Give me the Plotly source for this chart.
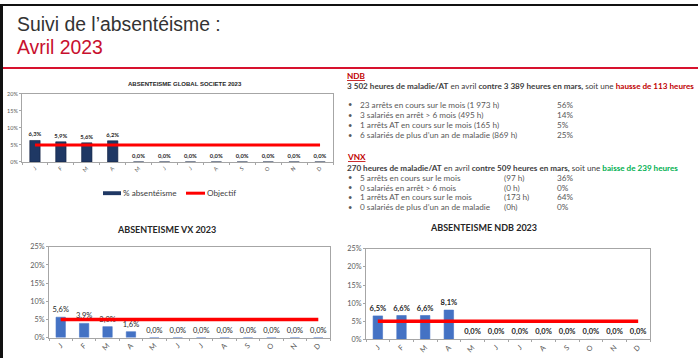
import plotly.graph_objects as go

# ---------------- data ----------------
MONTH_KEYS = ["Jan", "Fev", "Mar", "Avr", "Mai", "Juin", "Juil", "Aou", "Sep", "Oct", "Nov", "Dec"]
MONTH_LABELS = ["J", "F", "M", "A", "M", "J", "J", "A", "S", "O", "N", "D"]

GLOBAL_2023 = [6.3, 5.9, 5.6, 6.2, 0, 0, 0, 0, 0, 0, 0, 0]
VX_2023 = [5.6, 3.9, 3.0, 1.6, 0, 0, 0, 0, 0, 0, 0, 0]
NDB_2023 = [6.5, 6.6, 6.6, 8.1, 0, 0, 0, 0, 0, 0, 0, 0]
OBJECTIF = [5, 5, 5, 5, 5, 5, 5, 5, 5, 5, 5, 5]

Y_TICKS_GLOBAL = [0, 5, 10, 15, 20]
Y_TICKS_SITE = [0, 5, 10, 15, 20, 25]

# ---------------- layout helpers ----------------
W, H = 698, 363


def px(x):
    return x / W


def py(y):
    return 1 - y / H


def fmt(v):
    return f"{v:.1f}%".replace(".", ",")


NAVY = "#1F3864"
BLUE = "#4472C4"
RED = "#FF0000"
DARKRED = "#C00000"
GRID = "#A6A6A6"
TXT = "#404040"
FONT = "Lato"

fig = go.Figure()

charts = [
    dict(data=GLOBAL_2023, color=NAVY, line="#10203f", ax="", xr=(22, 333), yr=(162, 92), ymax=20,
         ticks=Y_TICKS_GLOBAL, tfs=5.5, lfs=5.8, bold=True, lw=3, tl=2),
    dict(data=VX_2023, color=BLUE, line=BLUE, ax="2", xr=(49, 330), yr=(342, 249), ymax=25,
         ticks=Y_TICKS_SITE, tfs=7.3, lfs=7.5, bold=False, lw=3.5, tl=2),
    dict(data=NDB_2023, color=BLUE, line=BLUE, ax="3", xr=(366, 650), yr=(344, 251), ymax=25,
         ticks=Y_TICKS_SITE, tfs=7.3, lfs=7.5, bold=True, lw=3.5, tl=2),
]

for c in charts:
    xa = "x" + c["ax"]
    ya = "y" + c["ax"]
    labels = [fmt(v) for v in c["data"]]
    if c["bold"]:
        labels = [f"<b>{t}</b>" for t in labels]
    fig.add_trace(go.Bar(
        x=MONTH_KEYS, y=c["data"], xaxis=xa, yaxis=ya,
        marker=dict(color=c["color"], line=dict(color=c["line"], width=0.6)),
        text=labels, textposition="outside", constraintext="none", cliponaxis=False,
        textfont=dict(size=c["lfs"], color="#262626", family=FONT),
        width=0.4, name="% absentéisme", hoverinfo="skip",
    ))
    fig.add_trace(go.Scatter(
        x=MONTH_KEYS, y=OBJECTIF, xaxis=xa, yaxis=ya, mode="lines",
        line=dict(color=RED, width=c["lw"]), name="Objectif", hoverinfo="skip",
    ))
    axis_common = dict(showline=True, linecolor=GRID, linewidth=1, mirror=True,
                       ticks="outside", tickcolor=GRID, ticklen=c["tl"], showgrid=False,
                       zeroline=False)
    fig.update_layout(**{
        ("xaxis" + c["ax"]): dict(
            domain=[px(c["xr"][0]), px(c["xr"][1])], anchor=ya,
            type="category", categoryorder="array", categoryarray=MONTH_KEYS,
            tickmode="array", tickvals=MONTH_KEYS, ticktext=MONTH_LABELS,
            tickangle=-45, tickson="boundaries",
            tickfont=dict(size=c["tfs"], color="#595959", family=FONT),
            range=[-0.5, 11.5], **axis_common),
        ("yaxis" + c["ax"]): dict(
            domain=[py(c["yr"][0]), py(c["yr"][1])], anchor=xa,
            range=[0, c["ymax"]], tickmode="array", tickvals=c["ticks"],
            ticktext=[f"{t}%" for t in c["ticks"]],
            tickfont=dict(size=c["tfs"], color="#595959", family=FONT),
            **axis_common),
    })

ann = []


def add_text(x, y, text, size=8.2, color=TXT, family=FONT, anchor="left"):
    ann.append(dict(x=px(x), y=py(y), xref="paper", yref="paper", text=text, showarrow=False,
                    xanchor=anchor, yanchor="middle", font=dict(size=size, color=color, family=family)))


# Slide title
add_text(15, 21, "Suivi de l’absentéisme :", size=19.4, color="#333333", family="Liberation Sans")
add_text(15, 44, "Avril 2023", size=19.4, color="#C8102E", family="Liberation Sans")

# chart titles
add_text(185, 82, "<b>ABSENTEISME GLOBAL SOCIETE 2023</b>", size=6.0, color="#262626", family="Liberation Sans", anchor="center")
add_text(166, 231, "<b>ABSENTEISME VX 2023</b>", size=9.0, color="#262626", family=FONT, anchor="center")
add_text(484, 229, "<b>ABSENTEISME NDB 2023</b>", size=9.0, color="#262626", family=FONT, anchor="center")

# legend for chart 1
add_text(121, 194, "% absentéisme", size=8.2, color=TXT)
add_text(205, 194, "Objectif", size=8.2, color=TXT)

# NDB block
add_text(345, 74, "<b><u>NDB</u></b>", size=8.2, color=DARKRED)
add_text(345, 84, "<b>3 502 heures de maladie/AT</b> en avril <b>contre 3 389 heures en mars,</b> soit une "
                  f"<b><span style='color:{DARKRED}'>hausse de 113 heures</span></b>", size=8.15)
ndb_lines = [("23 arrêts en cours sur le mois (1 973 h)", "56%"),
             ("3 salariés en arrêt > 6 mois (495 h)", "14%"),
             ("1 arrêts AT en cours sur le mois (165 h)", "5%"),
             ("6 salariés de plus d’un an de maladie (869 h)", "25%")]
for i, (t, p) in enumerate(ndb_lines):
    y = 103.5 + i * 10.4
    add_text(346, y, "•", size=7.5, color="#595959")
    add_text(358, y, t, size=8.2, color="#595959")
    add_text(555, y, p, size=8.2, color="#595959")

# VNX block
add_text(345, 157, "<b><u>VNX</u></b>", size=8.2, color=DARKRED)
add_text(345, 168, "<b>270 heures de maladie/AT</b> en avril <b>contre 509 heures en mars,</b> soit une "
                   "<b><span style='color:#00B050'>baisse de 239 heures</span></b>", size=8.15)
vnx_lines = [("5 arrêts en cours sur le mois", "(97 h)", "36%"),
             ("0 salariés en arrêt > 6 mois", "(0 h)", "0%"),
             ("1 arrêts AT en cours sur le mois", "(173 h)", "64%"),
             ("0 salariés de plus d’un an de maladie", "(0h)", "0%")]
for i, (t, h, p) in enumerate(vnx_lines):
    y = 178 + i * 10.2
    add_text(346, y, "•", size=7.5, color="#595959")
    add_text(358, y, t, size=8.2, color="#595959")
    add_text(502, y, h, size=8.2, color="#595959")
    add_text(555, y, p, size=8.2, color="#595959")

shapes = [
    dict(type="rect", xref="paper", yref="paper", x0=0, x1=px(3), y0=0, y1=1,
         fillcolor="#111111", line=dict(width=0), layer="above"),
    dict(type="rect", xref="paper", yref="paper", x0=0, x1=1, y0=py(2), y1=1,
         fillcolor="#111111", line=dict(width=0), layer="above"),
    dict(type="line", xref="paper", yref="paper", x0=px(3), x1=1, y0=py(65.5), y1=py(65.5),
         line=dict(color="#D7122E", width=2)),
    dict(type="rect", xref="paper", yref="paper", x0=px(103), x1=px(121), y0=py(196), y1=py(192),
         fillcolor=NAVY, line=dict(width=0)),
    dict(type="line", xref="paper", yref="paper", x0=px(186), x1=px(205), y0=py(194), y1=py(194),
         line=dict(color=RED, width=3)),
]

fig.update_layout(
    width=W, height=H, autosize=False,
    margin=dict(l=0, r=0, t=0, b=0),
    paper_bgcolor="white", plot_bgcolor="white",
    showlegend=False, bargap=0.6,
    annotations=ann, shapes=shapes,
    font=dict(family=FONT),
)

fig.write_html("out.html", config={"displayModeBar": False},
               post_script="document.body.style.margin='0';document.body.style.overflow='hidden';")
